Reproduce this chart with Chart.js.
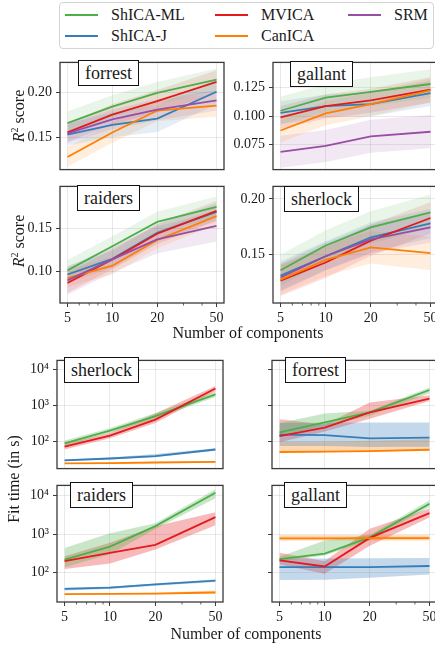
<!DOCTYPE html>
<html>
<head>
<meta charset="utf-8">
<script src="https://cdn.jsdelivr.net/npm/chart.js@4.4.1/dist/chart.umd.min.js"></script>
<style>
    body { margin: 0; width: 435px; height: 647px; overflow: hidden; background: #fff; position: relative;
           font-family: 'Liberation Serif', 'DejaVu Serif', serif; color: #1a1a1a; }
    canvas { position: absolute; }
    .abs { position: absolute; white-space: nowrap; }
    .legend { position: absolute; left: 59px; top: 2px; width: 373px; height: 45px; border: 1px solid #d4d4d4; border-radius: 4px; background: #fff; }
    .lline { position: absolute; width: 33px; height: 2px; }
    .ltext { position: absolute; font-size: 16px; line-height: 18px; }
    .title { position: absolute; background: #fff; border: 1px solid #111; font-size: 18px; line-height: 24px; padding: 0 6px; z-index: 5; }
    .axt { position: absolute; font-size: 16px; line-height: 18px; transform: translate(-50%, -50%); white-space: nowrap; }
    .rot { transform: translate(-50%, -50%) rotate(-90deg); }
</style>
</head>
<body>
<script>
(function () {
    var components = [5, 10, 20, 50];
    var methods = ['ShICA-ML', 'ShICA-J', 'MVICA', 'CanICA', 'SRM'];
    var colors = ['#4daf4a', '#377eb8', '#e41a1c', '#ff7f00', '#984ea3'];

    // R2 score, one row per method (ShICA-ML, ShICA-J, MVICA, CanICA, SRM)
    var forrestR2 = [[0.166, 0.1845, 0.1997, 0.2145], [0.153, 0.164, 0.171, 0.201], [0.1555, 0.1755, 0.1906, 0.212], [0.128, 0.1555, 0.180, 0.1855], [0.1545, 0.170, 0.181, 0.1915]];
    var forrestR2Lo = [[0.153, 0.172, 0.187, 0.202], [0.141, 0.150, 0.156, 0.187], [0.145, 0.164, 0.178, 0.199], [0.117, 0.144, 0.168, 0.173], [0.144, 0.159, 0.169, 0.180]];
    var forrestR2Hi = [[0.179, 0.197, 0.212, 0.227], [0.165, 0.178, 0.186, 0.215], [0.166, 0.187, 0.203, 0.225], [0.139, 0.167, 0.192, 0.198], [0.165, 0.181, 0.193, 0.203]];

    var gallantR2 = [[0.1048, 0.1162, 0.1214, 0.1282], [0.103, 0.1088, 0.1106, 0.1202], [0.099, 0.1088, 0.1139, 0.1232], [0.0875, 0.1025, 0.1106, 0.1227], [0.0688, 0.0741, 0.0824, 0.0864]];
    var gallantR2Lo = [[0.093, 0.104, 0.109, 0.116], [0.093, 0.099, 0.100, 0.109], [0.089, 0.098, 0.103, 0.112], [0.077, 0.092, 0.100, 0.112], [0.055, 0.060, 0.068, 0.072]];
    var gallantR2Hi = [[0.117, 0.128, 0.134, 0.141], [0.113, 0.119, 0.121, 0.131], [0.109, 0.119, 0.124, 0.134], [0.098, 0.113, 0.121, 0.133], [0.083, 0.088, 0.097, 0.101]];

    var raidersR2 = [[0.1008, 0.1293, 0.1581, 0.1759], [0.0959, 0.1144, 0.1452, 0.170], [0.0859, 0.1137, 0.1441, 0.1711], [0.0915, 0.1063, 0.1367, 0.1648], [0.0889, 0.1137, 0.1374, 0.1533]];
    var raidersR2Lo = [[0.089, 0.117, 0.146, 0.164], [0.086, 0.104, 0.135, 0.160], [0.074, 0.102, 0.132, 0.159], [0.081, 0.096, 0.127, 0.155], [0.072, 0.098, 0.121, 0.135]];
    var raidersR2Hi = [[0.113, 0.141, 0.170, 0.188], [0.106, 0.124, 0.155, 0.180], [0.098, 0.126, 0.156, 0.183], [0.102, 0.117, 0.147, 0.175], [0.105, 0.129, 0.153, 0.170]];

    var sherlockR2 = [[0.136, 0.1582, 0.1745, 0.1879], [0.1312, 0.1486, 0.1655, 0.1781], [0.1267, 0.143, 0.1626, 0.1829], [0.1276, 0.1453, 0.1565, 0.1514], [0.1295, 0.1486, 0.1638, 0.1745]];
    var sherlockR2Lo = [[0.122, 0.144, 0.160, 0.174], [0.118, 0.136, 0.152, 0.165], [0.113, 0.129, 0.149, 0.169], [0.114, 0.131, 0.142, 0.136], [0.117, 0.136, 0.151, 0.161]];
    var sherlockR2Hi = [[0.150, 0.172, 0.189, 0.204], [0.144, 0.162, 0.179, 0.191], [0.141, 0.157, 0.177, 0.197], [0.141, 0.159, 0.171, 0.166], [0.142, 0.161, 0.177, 0.188]];

    // fit time in s, one row per method (ShICA-ML, ShICA-J, MVICA, CanICA)
    var sherlockFit = [[89, 201, 512, 2070], [30, 33.6, 39, 60], [72, 147, 409, 3000], [24.5, 25, 26, 27]];
    var sherlockFitLo = [[75, 172, 430, 1750], [28.5, 31.5, 36.5, 55], [60, 124, 330, 2500], [24, 24.4, 25.3, 26.2]];
    var sherlockFitHi = [[106, 236, 620, 2450], [32, 36, 45, 65], [86, 174, 600, 3500], [25, 25.7, 26.8, 28]];

    var forrestFit = [[180, 340, 650, 2730], [155, 150, 122, 129], [141, 243, 650, 1560], [51, 52, 54, 59]];
    var forrestFitLo = [[145, 270, 520, 2200], [75, 75, 70, 72], [95, 190, 430, 1350], [49, 50, 52, 57]];
    var forrestFitHi = [[330, 600, 720, 3200], [330, 335, 340, 340], [420, 300, 1230, 1950], [100, 100, 105, 115]];

    var raidersFit = [[219, 475, 1610, 11700], [38.5, 41.4, 50, 63], [200, 330, 531, 2760], [28, 28.5, 29, 31]];
    var raidersFitLo = [[140, 300, 1350, 8500], [35, 38, 46, 58], [125, 175, 400, 1700], [27, 27.5, 28, 29.5]];
    var raidersFitHi = [[440, 1050, 1900, 14500], [41, 44, 53, 67], [270, 600, 1600, 3700], [29, 29.5, 30.5, 35]];

    var gallantFit = [[227, 312, 828, 6100], [140, 140, 140, 150], [211, 146, 800, 3500], [780, 780, 785, 785]];
    var gallantFitLo = [[200, 280, 700, 5000], [65, 66, 75, 91], [165, 95, 500, 2700], [680, 680, 685, 685]];
    var gallantFitHi = [[260, 680, 950, 7500], [236, 236, 238, 240], [330, 200, 1380, 4600], [930, 930, 935, 935]];

    var fitTicks = [100, 1000, 10000];
    var sup = { 2: '\u00b2', 3: '\u00b3', 4: '\u2074' };

    var X_MIN = 4.456, X_MAX = 56.1;
    var axisColor = '#3a3a3a';
    var gridColor = 'rgba(0,0,0,0.085)';
    var tickFont = { family: "'Liberation Serif', serif", size: 14 };
    var YW = 50;

    function rgba(hex, a) {
        var n = parseInt(hex.slice(1), 16);
        return 'rgba(' + (n >> 16) + ',' + ((n >> 8) & 255) + ',' + (n & 255) + ',' + a + ')';
    }

    function pts(vals) {
        return components.map(function (c, i) { return { x: c, y: vals[i] }; });
    }

    var framePlugin = {
        id: 'frame',
        afterDraw: function (chart) {
            var a = chart.chartArea, ctx = chart.ctx;
            ctx.save();
            ctx.strokeStyle = axisColor;
            ctx.lineWidth = 1.3;
            ctx.strokeRect(a.left, a.top, a.right - a.left, a.bottom - a.top);
            if (chart.options.showMinor) {
                var xs = chart.scales.x;
                ctx.lineWidth = 0.8;
                [6, 7, 8, 9, 30, 40].forEach(function (v) {
                    var px = xs.getPixelForValue(v);
                    ctx.beginPath();
                    ctx.moveTo(px, a.bottom);
                    ctx.lineTo(px, a.bottom + 2.5);
                    ctx.stroke();
                });
            }
            ctx.restore();
        }
    };

    function makePanel(p) {
        var xh = p.showX ? 24 : 4;
        var cv = document.createElement('canvas');
        var cw = YW + p.w + 4, ch = 4 + p.h + xh;
        cv.width = cw; cv.height = ch;
        cv.style.left = (p.left - YW) + 'px';
        cv.style.top = (p.top - 4) + 'px';
        cv.style.width = cw + 'px';
        cv.style.height = ch + 'px';
        document.body.appendChild(cv);

        var datasets = [];
        p.mean.forEach(function (vals, i) {
            var col = colors[i];
            datasets.push({ data: pts(p.hi[i]), borderWidth: 0, pointRadius: 0, fill: '+1', backgroundColor: rgba(col, p.alpha), order: 50 });
            datasets.push({ data: pts(p.lo[i]), borderWidth: 0, pointRadius: 0, fill: false, order: 50 });
        });
        p.mean.forEach(function (vals, i) {
            datasets.push({ label: methods[i], data: pts(vals), borderColor: colors[i], borderWidth: 1.8, pointRadius: 0, fill: false, order: 10 - i });
        });

        new Chart(cv, {
            type: 'line',
            data: { datasets: datasets },
            plugins: [framePlugin],
            options: {
                responsive: false,
                animation: false,
                devicePixelRatio: 1,
                showMinor: p.showX,
                layout: { padding: { top: 4, right: 4, left: 0, bottom: 0 } },
                plugins: { legend: { display: false }, tooltip: { enabled: false } },
                elements: { line: { tension: 0 } },
                scales: {
                    x: {
                        type: 'logarithmic', min: X_MIN, max: X_MAX,
                        afterBuildTicks: function (s) { s.ticks = components.map(function (v) { return { value: v }; }); },
                        afterFit: function (s) { s.height = xh; },
                        ticks: { display: p.showX, autoSkip: false, maxRotation: 0, padding: 3, color: '#1a1a1a', font: tickFont,
                                 callback: function (v) { return String(v); } },
                        grid: { color: gridColor, tickColor: axisColor, tickLength: 4, drawTicks: p.showX },
                        border: { display: false }
                    },
                    y: {
                        type: p.log ? 'logarithmic' : 'linear', min: p.yMin, max: p.yMax,
                        afterBuildTicks: function (s) { s.ticks = p.yTicks.map(function (v) { return { value: v }; }); },
                        afterFit: function (s) { s.width = YW; },
                        ticks: { display: true, autoSkip: false, padding: 4, color: '#1a1a1a', font: tickFont,
                                 callback: function (v) { return p.yLabel ? p.yLabel(v) : ''; } },
                        grid: { color: gridColor, tickColor: axisColor, tickLength: 4 },
                        border: { display: false }
                    }
                }
            }
        });
    }

    function fix2(v) { return v.toFixed(2); }
    function fix3(v) { return v.toFixed(3); }
    function pow10(v) { return '10' + sup[Math.round(Math.log10(v))]; }

    // R2 score panels
    makePanel({ left: 60, top: 54, w: 164, h: 124, mean: forrestR2, lo: forrestR2Lo, hi: forrestR2Hi, alpha: 0.13,
                yMin: 0.1139, yMax: 0.2339, yTicks: [0.15, 0.20], yLabel: fix2, showX: false });
    makePanel({ left: 273, top: 54, w: 165, h: 124, mean: gallantR2, lo: gallantR2Lo, hi: gallantR2Hi, alpha: 0.13,
                yMin: 0.0533, yMax: 0.1471, yTicks: [0.075, 0.100, 0.125], yLabel: fix3, showX: false });
    makePanel({ left: 60, top: 178, w: 164, h: 125, mean: raidersR2, lo: raidersR2Lo, hi: raidersR2Hi, alpha: 0.13,
                yMin: 0.0622, yMax: 0.200, yTicks: [0.10, 0.15], yLabel: fix2, showX: true });
    makePanel({ left: 273, top: 178, w: 165, h: 125, mean: sherlockR2, lo: sherlockR2Lo, hi: sherlockR2Hi, alpha: 0.13,
                yMin: 0.1067, yMax: 0.2112, yTicks: [0.15, 0.20], yLabel: fix2, showX: true });

    // fit time panels
    makePanel({ left: 57, top: 352, w: 166, h: 125, mean: sherlockFit, lo: sherlockFitLo, hi: sherlockFitHi, alpha: 0.3, log: true,
                yMin: 17.6, yMax: 18200, yTicks: fitTicks, yLabel: pow10, showX: false });
    makePanel({ left: 272, top: 352, w: 165, h: 125, mean: forrestFit, lo: forrestFitLo, hi: forrestFitHi, alpha: 0.3, log: true,
                yMin: 17.6, yMax: 18200, yTicks: fitTicks, yLabel: null, showX: false });
    makePanel({ left: 57, top: 477, w: 166, h: 125, mean: raidersFit, lo: raidersFitLo, hi: raidersFitHi, alpha: 0.3, log: true,
                yMin: 17.6, yMax: 18200, yTicks: fitTicks, yLabel: pow10, showX: true });
    makePanel({ left: 272, top: 477, w: 165, h: 125, mean: gallantFit, lo: gallantFitLo, hi: gallantFitHi, alpha: 0.3, log: true,
                yMin: 17.6, yMax: 18200, yTicks: fitTicks, yLabel: null, showX: true });

    // legend, filled column by column like the original
    var lg = document.createElement('div');
    lg.className = 'legend';
    document.body.appendChild(lg);
    var colX = [5, 155, 288], rowY = [12, 33];
    methods.forEach(function (m, i) {
        var c = Math.floor(i / 2), r = i % 2;
        var ln = document.createElement('div');
        ln.className = 'lline';
        ln.style.left = colX[c] + 'px';
        ln.style.top = (rowY[r] - 1) + 'px';
        ln.style.background = colors[i];
        lg.appendChild(ln);
        var tx = document.createElement('div');
        tx.className = 'ltext';
        tx.style.left = (colX[c] + 46) + 'px';
        tx.style.top = (rowY[r] - 9) + 'px';
        tx.textContent = m;
        lg.appendChild(tx);
    });

    function addText(html, cls, x, y) {
        var d = document.createElement('div');
        d.className = cls;
        d.style.left = x + 'px';
        d.style.top = y + 'px';
        d.innerHTML = html;
        document.body.appendChild(d);
    }

    var titles = [['forrest', 78, 60], ['gallant', 290, 61], ['raiders', 77, 185], ['sherlock', 284, 186],
                  ['sherlock', 64, 357], ['forrest', 285, 357], ['raiders', 70, 482], ['gallant', 284, 482]];
    titles.forEach(function (t) { addText(t[0], 'title', t[1], t[2]); });

    addText('<i>R</i><sup style="font-size:10px">2</sup> score', 'axt rot', 17, 116);
    addText('<i>R</i><sup style="font-size:10px">2</sup> score', 'axt rot', 17, 241);
    addText('Number of components', 'axt', 248, 333);
    addText('Fit time (in s)', 'axt rot', 14, 479);
    addText('Number of components', 'axt', 246, 634);
})();
</script>
</body>
</html>
